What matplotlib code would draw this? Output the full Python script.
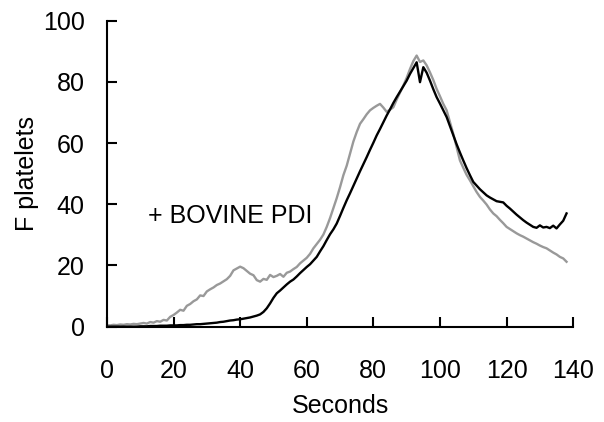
import numpy as np
import matplotlib
matplotlib.use("Agg")
import matplotlib.pyplot as plt

plt.rcParams['font.family'] = ['Liberation Sans', 'DejaVu Sans']

# Tiempo en segundos (muestreo de 1 s)
seconds = np.arange(0, 139)

# Curva gris (+ BOVINE PDI)
pdi = [0.5, 0.4, 0.6, 0.5, 0.7, 0.6, 0.8, 0.7, 0.9, 0.8, 1.0,
       1.2, 1.0, 1.5, 1.3, 1.8, 1.6, 2.2, 2.0, 3.2, 3.8,
       4.6, 5.5, 5.2, 6.8, 7.4, 8.3, 8.9, 10.2, 10.0, 11.5,
       12.2, 12.8, 13.6, 14.1, 14.8, 15.5, 16.6, 18.4, 19.0, 19.6,
       19.1, 18.2, 17.3, 16.8, 15.2, 14.7, 15.6, 15.3, 16.9, 16.2,
       16.6, 17.2, 16.3, 17.6, 18.0, 18.8, 19.5, 20.7, 21.6, 22.5,
       23.8, 25.6, 27.0, 28.4, 30.1, 32.6, 35.5, 38.8, 42.0, 45.6,
       49.5, 52.6, 56.5, 60.5, 63.6, 66.3, 67.8, 69.4, 70.7, 71.5,
       72.2, 72.8, 71.6, 70.2, 70.9, 71.7, 74.2, 76.5, 78.8, 81.3,
       84.2, 86.8, 88.6, 86.5, 87.0, 85.4, 83.1, 80.6, 77.7, 75.3,
       72.8, 70.7, 66.8, 63.0, 58.6, 54.3, 51.9, 49.6, 47.8, 45.9,
       44.0, 42.4, 41.2, 39.9, 38.3, 37.0, 36.1, 34.9, 33.8, 32.6,
       31.9, 31.2, 30.5, 29.9, 29.4, 28.8, 28.2, 27.6, 27.1, 26.5,
       26.0, 25.6, 24.9, 24.2, 23.6, 22.8, 22.3, 21.2]

# Curva negra (control)
control = [0.0, 0.0, 0.0, 0.0, 0.0, 0.0, 0.0, 0.0, 0.0, 0.0, 0.1,
           0.1, 0.1, 0.2, 0.2, 0.2, 0.3, 0.3, 0.3, 0.4, 0.4,
           0.4, 0.5, 0.5, 0.6, 0.6, 0.7, 0.8, 0.8, 0.9, 1.0,
           1.1, 1.2, 1.3, 1.5, 1.6, 1.8, 2.0, 2.1, 2.3, 2.4,
           2.6, 2.8, 3.0, 3.3, 3.6, 4.0, 4.8, 6.0, 7.6, 9.4,
           10.9, 11.8, 12.8, 13.8, 14.7, 15.4, 16.4, 17.5, 18.5, 19.5,
           20.4, 21.6, 22.8, 24.6, 26.3, 28.3, 30.2, 31.8, 33.7, 36.2,
           38.8, 41.3, 43.6, 46.0, 48.4, 50.8, 53.1, 55.4, 57.8, 60.1,
           62.5, 64.6, 66.8, 69.0, 71.0, 73.1, 75.0, 76.8, 78.6, 80.4,
           82.6, 84.5, 86.4, 79.9, 84.8, 83.0, 80.4, 77.6, 75.0, 72.9,
           70.7, 68.5, 65.5, 62.5, 59.6, 56.9, 54.3, 51.8, 49.5, 47.3,
           46.1, 44.9, 43.9, 42.9, 42.2, 41.6, 41.0, 40.8, 40.6, 39.5,
           38.6, 37.6, 36.6, 35.7, 34.8, 34.0, 33.3, 32.6, 32.3, 33.1,
           32.4, 32.6, 32.2, 33.0, 32.1, 33.4, 34.6, 37.0]

x_ticks = [0, 20, 40, 60, 80, 100, 120, 140]
y_ticks = [0, 20, 40, 60, 80, 100]

fig = plt.figure(figsize=(6.04, 4.22), dpi=100)
ax = fig.add_axes([0.177, 0.226, 0.772, 0.725])

ax.plot(seconds, pdi, color='#999999', lw=1.7)
ax.plot(seconds, control, color='black', lw=1.7)

ax.text(12.3, 36, "+ BOVINE PDI", fontsize=18, va='center', ha='left')

ax.set_xlim(0, 140)
ax.set_ylim(0, 100)
ax.set_xticks(x_ticks)
ax.set_yticks(y_ticks)
ax.spines['top'].set_visible(False)
ax.spines['right'].set_visible(False)
for s in ['left', 'bottom']:
    ax.spines[s].set_linewidth(1.5)
ax.tick_params(direction='in', length=7, width=1.5, labelsize=18)
ax.tick_params(axis='x', pad=23)
ax.tick_params(axis='y', pad=16)
ax.set_xlabel("Seconds", fontsize=18, labelpad=8)
ax.set_ylabel("F platelets", fontsize=18, labelpad=3)

fig.savefig("out.png", dpi=100)
